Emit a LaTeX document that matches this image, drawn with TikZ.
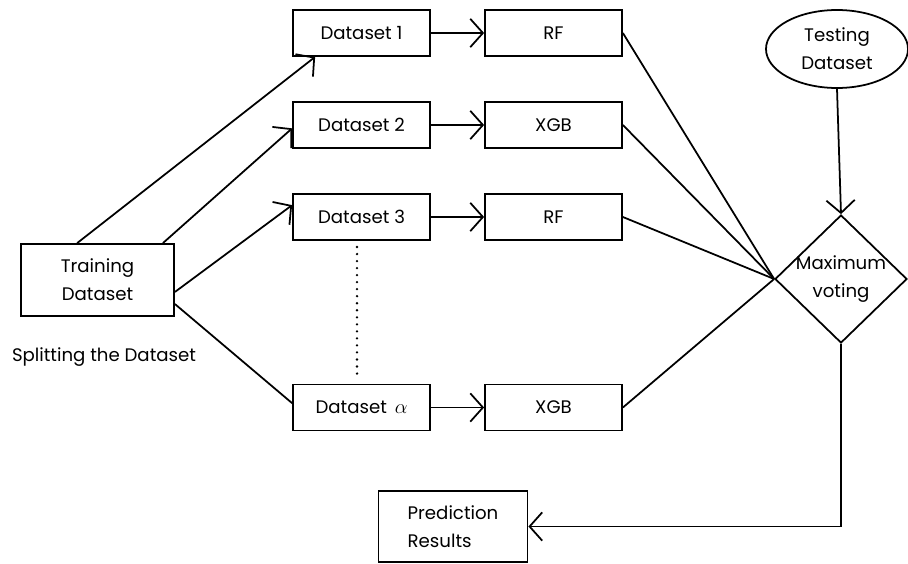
\documentclass[tikz,border=0pt]{standalone}
\usepackage{fontspec}
\setmainfont{Poppins}
\usetikzlibrary{shapes.geometric,arrows.meta}

\tikzset{
  box/.style={draw, line width=1.5pt, minimum width=4.11cm, minimum height=1.38cm, inner sep=2pt},
  bigbox/.style={box, minimum width=4.59cm, minimum height=2.16cm, align=center},
  arr/.style={line width=1.5pt, -{Straight Barb[length=3.8mm, width=8.5mm, line width=1.5pt]}},
  link/.style={line width=1.5pt}
}

\begin{document}
\begin{tikzpicture}[x=0.03cm, y=-0.03cm, font=\fontsize{15.5}{24}\selectfont]

    % page frame
    \useasboundingbox (0,0) rectangle (908,563);

    % draw input nodes
    \node[bigbox] (train) at (97.5,280) {Training\\Dataset};
    \node (split) at (104,357) {Splitting the Dataset};

    % draw dataset boxes
    \node[box] (ds1) at (361.5,33) {Dataset 1};
    \node[box] (ds2) at (361.5,125) {Dataset 2};
    \node[box] (ds3) at (361.5,217) {Dataset 3};
    \node[box] (dsa) at (361.5,407.5) {Dataset \,{\LARGE$\alpha$}};

    % draw model boxes
    \node[box] (rf1) at (553.5,33) {RF};
    \node[box] (xgb1) at (553.5,125) {XGB};
    \node[box] (rf2) at (553.5,217) {RF};
    \node[box] (xgb2) at (553.5,407.5) {XGB};

    % draw voting part
    \node[draw, line width=1.5pt, ellipse, minimum width=4.26cm, minimum height=2.34cm, align=center, inner sep=0pt] (test) at (837,49) {Testing\\Dataset};
    \node[draw, line width=1.5pt, diamond, minimum width=3.96cm, minimum height=3.84cm, inner sep=0pt,
          label={[align=center, name=votetext]center:Maximum\\voting}] (vote) at (841,279) {};
    \node[bigbox, minimum width=4.47cm, minimum height=2.13cm, align=left] (pred) at (453,526.5) {Prediction\\Results};

    % dots between dataset 3 and dataset alpha
    \draw[line width=2.2pt, line cap=round, dash pattern=on 0pt off 6pt] (357,247) -- (357,378);

    % splitting arrows
    \draw[arr] ([xshift=1.71cm]train.north west) -- ([xshift=0.69cm]ds1.south west);
    \draw[arr] ([xshift=-0.36cm]train.north east) -- ([yshift=-0.1cm]ds2.west);
    \draw[arr] ([yshift=-0.36cm]train.east) -- ([yshift=-0.36cm]ds3.north west);
    \draw[link] ([yshift=-0.72cm]train.east) -- ([yshift=0.13cm]dsa.west);

    % training arrows
    \foreach \d/\m in {ds1/rf1, ds2/xgb1, ds3/rf2, dsa/xgb2}
      \draw[arr] (\d.east) -- (\m.west);

    % model outputs into voting
    \foreach \m in {rf1, xgb1, rf2, xgb2}
      \draw[link] (\m.east) -- (vote.west);

    % test data and result
    \draw[arr] (test.south) -- (vote.north);
    \draw[arr] (vote.south) |- (pred.east);

\end{tikzpicture}
\end{document}
